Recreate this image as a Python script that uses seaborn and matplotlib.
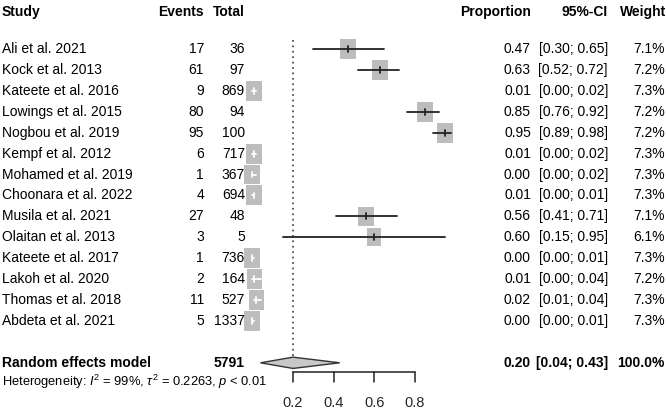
import numpy as np
import pandas as pd
import seaborn as sns
import matplotlib
import matplotlib.pyplot as plt
from matplotlib.transforms import blended_transform_factory

sns.set_theme(style='white')
plt.rcParams['font.family'] = ['Liberation Sans', 'DejaVu Sans']
plt.rcParams['mathtext.fontset'] = 'custom'
plt.rcParams['mathtext.rm'] = 'Liberation Sans'
plt.rcParams['mathtext.it'] = 'Liberation Sans:italic'

# data
studies = ['Ali et al. 2021', 'Kock et al. 2013', 'Kateete et al. 2016', 'Lowings et al. 2015',
           'Nogbou et al. 2019', 'Kempf et al. 2012', 'Mohamed et al. 2019', 'Choonara et al. 2022',
           'Musila et al. 2021', 'Olaitan et al. 2013', 'Kateete et al. 2017', 'Lakoh et al. 2020',
           'Thomas et al. 2018', 'Abdeta et al. 2021']
events = [17, 61, 9, 80, 95, 6, 1, 4, 27, 3, 1, 2, 11, 5]
totals = [36, 97, 869, 94, 100, 717, 367, 694, 48, 5, 736, 164, 527, 1337]
prop = [0.47, 0.63, 0.01, 0.85, 0.95, 0.01, 0.00, 0.01, 0.56, 0.60, 0.00, 0.01, 0.02, 0.00]
ci_lo = [0.30, 0.52, 0.00, 0.76, 0.89, 0.00, 0.00, 0.00, 0.41, 0.15, 0.00, 0.00, 0.01, 0.00]
ci_hi = [0.65, 0.72, 0.02, 0.92, 0.98, 0.02, 0.02, 0.01, 0.71, 0.95, 0.01, 0.04, 0.04, 0.01]
weights = [7.1, 7.2, 7.3, 7.2, 7.2, 7.3, 7.3, 7.3, 7.1, 6.1, 7.3, 7.2, 7.3, 7.3]

re_total = 5791
re_est, re_lo, re_hi = 0.20, 0.04, 0.43
xticks = [0.2, 0.4, 0.6, 0.8]

df = pd.DataFrame({'study': studies, 'events': events, 'total': totals,
                   'prop': prop, 'lo': ci_lo, 'hi': ci_hi, 'weight': weights})
df['row'] = np.arange(len(df))

W, H = 666, 411
fig = plt.figure(figsize=(W / 100, H / 100), dpi=100)
ax = fig.add_axes([0, 0, 1, 1])
ax.axis('off')

# x: proportion scale, 0.2 sits at pixel 293, 203 px per unit
x0px, pxu = 293, 203
ax.set_xlim(0.2 - x0px / pxu, 0.2 + (W - x0px) / pxu)
# y: row index, row 0 at pixel 49, 20.92 px per row
y0px, pxr = 49, 20.92
ax.set_ylim((H - y0px) / pxr, -y0px / pxr)

tr = blended_transform_factory(fig.transFigure, ax.transData)
def fx(px):
    return px / W

fs = 10
def txt(px, y, s, ha='right', bold=False, size=fs):
    ax.text(fx(px), y, s, transform=tr, ha=ha, va='center', fontsize=size,
            fontweight='bold' if bold else 'normal', color='black')

hdr_row = -1.77
txt(2, hdr_row, 'Study', ha='left', bold=True)
txt(204, hdr_row, 'Events', bold=True)
txt(245, hdr_row, 'Total', bold=True)
txt(531, hdr_row, 'Proportion', bold=True)
txt(608, hdr_row, '95%-CI', bold=True)
txt(666, hdr_row, 'Weight', bold=True)

for _, r in df.iterrows():
    y = r['row']
    txt(2, y, r['study'], ha='left')
    txt(204, y, f"{r['events']}")
    txt(245, y, f"{r['total']}")
    txt(531, y, f"{r['prop']:.2f}")
    txt(608, y, f"[{r['lo']:.2f}; {r['hi']:.2f}]")
    txt(665, y, f"{r['weight']:.1f}%")

# reference line at pooled estimate
ax.plot([re_est, re_est], [-0.45, 14.72], color='#555555', lw=1.3, ls=(0, (1, 2)), zorder=1)

# boxes sized by weight (slightly taller than wide, as in the original)
box = [(-0.8, -1), (0.8, -1), (0.8, 1), (-0.8, 1), (-0.8, -1)]
sns.scatterplot(data=df, x='prop', y='row', size='weight', sizes=(165, 205), size_norm=(6.1, 7.3),
                marker=box, color='#bdbdbd', edgecolor='none', legend=False, ax=ax, zorder=2)

# confidence intervals; white when hidden inside the box
half_sq = 7 / pxu
for _, r in df.iterrows():
    narrow = (r['prop'] - r['lo'] < half_sq) and (r['hi'] - r['prop'] < half_sq)
    col = 'white' if narrow else '#222222'
    ax.plot([r['lo'], r['hi']], [r['row'], r['row']], color=col, lw=1.3, zorder=3)
    ax.plot([r['prop'], r['prop']], [r['row'] - 0.14, r['row'] + 0.14], color=col, lw=1.3, zorder=3)

# random effects row
re_row = 15
txt(2, re_row, 'Random effects model', ha='left', bold=True)
txt(245, re_row, f'{re_total}', bold=True)
txt(531, re_row, f'{re_est:.2f}', bold=True)
txt(608, re_row, f'[{re_lo:.2f}; {re_hi:.2f}]', bold=True)
txt(665, re_row, '100.0%', bold=True)
ax.fill([re_lo, re_est, re_hi, re_est], [re_row, re_row - 0.27, re_row, re_row + 0.27],
        facecolor='#c8c8c8', edgecolor='#333333', lw=1.0, zorder=3)

txt(2, 15.9, r'Heterogeneity: $I^2$ = 99%, $\tau^2$ = 0.2263, $p$ < 0.01', ha='left', size=9.3)

# x axis
ax_row = 15.44
ax.plot([xticks[0], xticks[-1]], [ax_row, ax_row], color='#222222', lw=1.1)
for t in xticks:
    ax.plot([t, t], [ax_row, ax_row + 0.48], color='#222222', lw=1.1)
    ax.text(t, 16.92, f'{t:.1f}', ha='center', va='center', fontsize=fs + 0.5)

fig.savefig('out.png', dpi=100)
